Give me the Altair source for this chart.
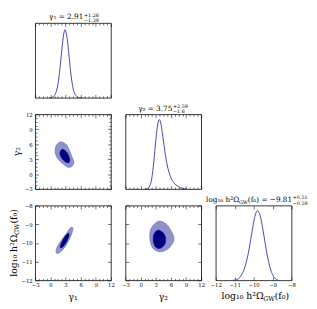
import altair as alt
import pandas as pd

# ---------------- data ----------------
gamma_range = [-3, 12]
logo_range = [-12, -8]
peak_range = [0, 1]
gamma_ticks = [-3, 0, 3, 6, 9, 12]
gamma_minor = [-2.25, -1.5, -0.75, 0.75, 1.5, 2.25, 3.75, 4.5, 5.25,
               6.75, 7.5, 8.25, 9.75, 10.5, 11.25]
logo_ticks = [-12, -11, -10, -9, -8]

# 1D marginals (normalised height)
g1_x = [-0.2, 0.3, 0.8, 1.2, 1.6, 2.0, 2.4, 2.7, 2.9, 3.1, 3.4, 3.8, 4.2, 4.6, 5.0, 5.4, 5.8, 6.3]
g1_p = [0.0, 0.005, 0.03, 0.09, 0.22, 0.45, 0.72, 0.87, 0.91, 0.88, 0.76, 0.49, 0.25, 0.1, 0.035, 0.01, 0.002, 0.0]

g2_x = [1.0, 1.4, 1.8, 2.2, 2.6, 3.0, 3.4, 3.7, 4.0, 4.4, 4.8, 5.2, 5.6, 6.0, 6.5, 7.0, 7.5, 8.0, 8.6, 9.2]
g2_p = [0.0, 0.005, 0.04, 0.14, 0.36, 0.65, 0.87, 0.93, 0.88, 0.7, 0.5, 0.34, 0.23, 0.15, 0.09, 0.055, 0.03, 0.015, 0.005, 0.0]

lo_x = [-11.1, -10.9, -10.7, -10.5, -10.3, -10.1, -9.95, -9.8, -9.65, -9.5, -9.3, -9.1, -8.9, -8.7]
lo_p = [0.0, 0.01, 0.05, 0.15, 0.34, 0.63, 0.84, 0.93, 0.86, 0.66, 0.36, 0.14, 0.035, 0.0]

# 2D credible contours (outer = light, inner = dark)
g1g2_outer_x = [2.23, 3.19, 3.83, 4.34, 4.66, 4.28, 3.51, 2.55, 1.47, 0.96, 1.09, 1.60]
g1g2_outer_y = [6.46, 5.93, 4.63, 3.32, 2.35, 1.57, 1.37, 2.02, 3.13, 4.30, 5.61, 6.26]
g1g2_inner_x = [2.55, 3.32, 3.83, 3.70, 3.19, 2.43, 1.91, 2.11]
g1g2_inner_y = [4.96, 4.30, 3.00, 2.35, 2.35, 3.00, 3.98, 4.76]

g1lo_outer_x = [4.28, 4.47, 4.02, 3.19, 2.23, 1.47, 1.15, 1.28, 2.11, 3.19, 3.83]
g1lo_outer_y = [-9.16, -9.26, -9.66, -10.09, -10.43, -10.56, -10.51, -10.26, -9.88, -9.49, -9.23]
g1lo_inner_x = [3.51, 3.70, 3.32, 2.62, 2.11, 1.98, 2.36, 3.00]
g1lo_inner_y = [-9.49, -9.57, -9.88, -10.17, -10.26, -10.17, -9.91, -9.62]

g2lo_outer_x = [3.54, 4.88, 5.85, 6.62, 5.65, 4.12, 2.77, 2.00, 1.81, 2.19]
g2lo_outer_y = [-8.84, -8.95, -9.26, -9.79, -10.26, -10.47, -10.37, -10.05, -9.58, -9.16]
g2lo_inner_x = [3.35, 4.31, 4.88, 4.88, 4.12, 3.15, 2.58, 2.58]
g2lo_inner_y = [-9.32, -9.42, -9.68, -10.00, -10.26, -10.26, -10.00, -9.58]

# ---------------- style ----------------
FONT = "DejaVu Serif"
LINE = "#2f2f9c"
LIGHT = "#9090cc"
LIGHT_EDGE = "#6a6ab6"
DARK = "#000080"
W, H = 78, 77
MAJ, MIN = 3.5, 2.0
TS, SS, AS, AS_S = 7.5, 5.0, 9.5, 6.6
Y_MAIN, Y_SUP, Y_SUB = -3.8, -6.6, -0.9
Y_XT = 97
ONE = pd.DataFrame({"k": [0]})


def mk_axis(orient, values, size, labels):
    kw = dict(orient=orient, values=values, tickSize=size, offset=-size, domain=False,
              grid=False, labels=labels, title=None, ticks=True, tickColor="black",
              tickWidth=0.55)
    if labels:
        kw.update(labelFont=FONT, labelFontSize=5.5, labelColor="black",
                  labelPadding=2 if orient == "bottom" else 3,
                  labelFlush=False, labelOverlap=False)
    return alt.Axis(**kw)


def axis_layers(xdom, ydom, xmaj, xmin, ymaj, ymin, xlab, ylab):
    corners = pd.DataFrame({"x": xdom, "y": ydom})
    xs = alt.Scale(domain=xdom, nice=False, zero=False)
    ys = alt.Scale(domain=ydom, nice=False, zero=False)
    specs = [("bottom", xmaj, MAJ, xlab, "left", ymaj, MAJ, ylab),
             ("bottom", xmin, MIN, False, "left", ymin, MIN, False),
             ("top", xmaj, MAJ, False, "right", ymaj, MAJ, False),
             ("top", xmin, MIN, False, "right", ymin, MIN, False)]
    out = []
    for xo, xv, xsz, xl, yo, yv, ysz, yl in specs:
        xa = mk_axis(xo, xv, xsz, xl) if xv else None
        ya = mk_axis(yo, yv, ysz, yl) if yv else None
        if xa is None and ya is None:
            continue
        out.append(alt.Chart(corners).mark_point(opacity=0, size=1).encode(
            x=alt.X("x:Q", scale=xs, axis=xa), y=alt.Y("y:Q", scale=ys, axis=ya)))
    return out


def sc(dom):
    return alt.Scale(domain=dom, nice=False, zero=False)


def curve(xv, pv, xdom):
    df = pd.DataFrame({"x": xv, "y": pv})
    return alt.Chart(df).mark_line(color=LINE, strokeWidth=0.9, interpolate="monotone").encode(
        x=alt.X("x:Q", scale=sc(xdom), axis=None), y=alt.Y("y:Q", scale=sc(peak_range), axis=None))


def contour(xv, yv, xdom, ydom, fill, stroke):
    df = pd.DataFrame({"x": xv, "y": yv, "i": list(range(len(xv)))})
    return alt.Chart(df).mark_line(interpolate="cardinal-closed", fill=fill, stroke=stroke,
                                   strokeWidth=0.6).encode(
        x=alt.X("x:Q", scale=sc(xdom), axis=None), y=alt.Y("y:Q", scale=sc(ydom), axis=None),
        order="i:Q")


def txt(s, x, y, size, align="left", angle=None, baseline="alphabetic"):
    kw = dict(text=s, font=FONT, fontSize=size, align=align, baseline=baseline, color="black")
    if angle is not None:
        kw["angle"] = angle
    return alt.Chart(ONE).mark_text(**kw).encode(x=alt.value(x), y=alt.value(y))


def panel(layers):
    return alt.layer(*layers).resolve_axis(x="independent", y="independent").properties(
        width=W, height=H)


def empty():
    return alt.Chart(ONE).mark_point(opacity=0, size=1).encode(
        x=alt.value(0), y=alt.value(0)).properties(
        width=W, height=H, view=alt.ViewBackground(stroke="transparent"))


# row 1: gamma1 marginal
p11 = panel([curve(g1_x, g1_p, gamma_range)]
            + axis_layers(gamma_range, peak_range, gamma_ticks, gamma_minor, None, None, False, False)
            + [txt("γ₁ = 2.91", 49.5, Y_MAIN, TS, align="right"),
               txt("+1.26", 50.3, Y_SUP, SS), txt("−1.39", 50.3, Y_SUB, SS)])

# row 2
p21 = panel([contour(g1g2_outer_x, g1g2_outer_y, gamma_range, gamma_range, LIGHT, LIGHT_EDGE),
             contour(g1g2_inner_x, g1g2_inner_y, gamma_range, gamma_range, DARK, DARK)]
            + axis_layers(gamma_range, gamma_range, gamma_ticks, gamma_minor, gamma_ticks, gamma_minor, False, True)
            + [txt("γ₂", -18.5, 38.5, AS, align="center", angle=270, baseline="middle")])
p22 = panel([curve(g2_x, g2_p, gamma_range)]
            + axis_layers(gamma_range, peak_range, gamma_ticks, gamma_minor, None, None, False, False)
            + [txt("γ₂ = 3.75", 48.2, Y_MAIN, TS, align="right"),
               txt("+2.59", 49.0, Y_SUP, SS), txt("−1.6", 49.0, Y_SUB, SS)])

# row 3
p31 = panel([contour(g1lo_outer_x, g1lo_outer_y, gamma_range, logo_range, LIGHT, LIGHT_EDGE),
             contour(g1lo_inner_x, g1lo_inner_y, gamma_range, logo_range, DARK, DARK)]
            + axis_layers(gamma_range, logo_range, gamma_ticks, gamma_minor, logo_ticks, None, True, True)
            + [txt("γ₁", 39, Y_XT, AS, align="center"),
               txt("log₁₀ h²Ω", -19, 73.2, AS, angle=270),
               txt("GW", -16.5, 30.4, AS_S, angle=270),
               txt("(f₀)", -19, 18.5, AS, angle=270)])
p32 = panel([contour(g2lo_outer_x, g2lo_outer_y, gamma_range, logo_range, LIGHT, LIGHT_EDGE),
             contour(g2lo_inner_x, g2lo_inner_y, gamma_range, logo_range, DARK, DARK)]
            + axis_layers(gamma_range, logo_range, gamma_ticks, gamma_minor, logo_ticks, None, True, False)
            + [txt("γ₂", 39, Y_XT, AS, align="center")])
p33 = panel([curve(lo_x, lo_p, logo_range)]
            + axis_layers(logo_range, peak_range, logo_ticks, None, None, None, True, False)
            + [txt("log₁₀ h²Ω", -10, Y_MAIN, TS), txt("GW", 23.8, Y_MAIN + 2.0, SS),
               txt("(f₀) = −9.81", 33.0, Y_MAIN, TS),
               txt("+0.51", 79.3, Y_SUP, SS), txt("−0.59", 79.3, Y_SUB, SS),
               txt("log₁₀ h²Ω", 6, Y_XT - 1, AS), txt("GW", 48.8, Y_XT + 1.5, AS_S),
               txt("(f₀)", 60.7, Y_XT - 1, AS)])

chart = alt.concat(p11, empty(), empty(),
                   p21, p22, empty(),
                   p31, p32, p33,
                   columns=3, spacing=alt.RowColnumber(row=17, column=15),
                   bounds="flush", padding=0).configure_view(stroke="black", strokeWidth=0.8)

chart.save("out.html", embed_options={"renderer": "svg", "actions": False})
